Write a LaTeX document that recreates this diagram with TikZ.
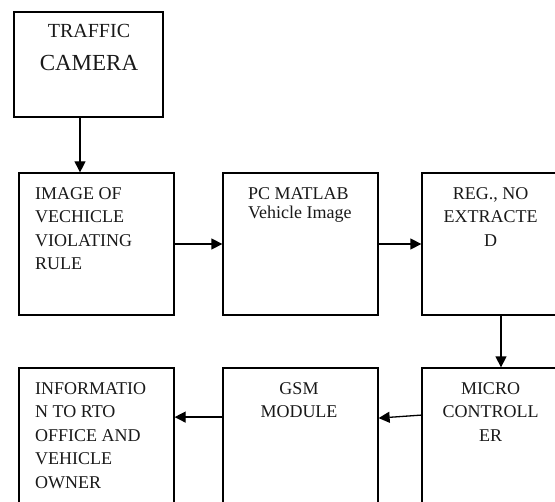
\documentclass[tikz,border=0pt]{standalone}
\usepackage{fontspec}
\setmainfont{Liberation Serif}
\usetikzlibrary{arrows.meta}
\begin{document}
\begin{tikzpicture}
    [%%%%%%%%%%%%%%%%%%%%%%%%%%%%%%
        x=1bp, y=-1bp,
        box/.style={rectangle,draw=black,line width=1.3bp,minimum width=155bp,minimum height=142bp,inner sep=0pt},
        txt/.style={inner sep=0pt,text=black!90,font=\fontsize{18bp}{23.5bp}\selectfont},
        arrow/.style={line width=1.3bp,-{Triangle[length=11bp,width=11bp]}},
    ]%%%%%%%%%%%%%%%%%%%%%%%%%%%%%%
    \clip (0,0) rectangle (555,502);
    \node[box, minimum width=149bp, minimum height=105bp] (cam) at (88.5,64.5) {};
    \node[box] (img) at (96.5,244) {};
    \node[box] (mat) at (300.5,244) {};
    \node[box] (reg) at (499.5,244) {};
    \node[box] (inf) at (96.5,439) {};
    \node[box] (gsm) at (300.5,439) {};
    \node[box] (mic) at (499.5,439) {};
    \node[txt, anchor=north, align=center, font=\fontsize{23bp}{33bp}\selectfont] (camtxt) at (89,24) {{\fontsize{20bp}{33bp}\selectfont TRAFFIC}\\CAMERA};
    \node[txt, anchor=north west, align=left] (imgtxt) at (35,187) {IMAGE OF\\VECHICLE\\VIOLATING\\RULE};
    \node[txt, anchor=north west, align=left, font=\fontsize{18bp}{19.5bp}\selectfont] (mattxt) at (248,187) {PC MATLAB\\Vehicle Image};
    \node[txt, anchor=north, align=center] (regtxt) at (490.5,187) {REG., NO\\EXTRACTE\\D};
    \node[txt, anchor=north west, align=left] (inftxt) at (35,382) {INFORMATIO\\N TO RTO\\OFFICE AND\\VEHICLE\\OWNER};
    \node[txt, anchor=north, align=center] (gsmtxt) at (299,382) {GSM\\MODULE};
    \node[txt, anchor=north, align=center] (mictxt) at (490.5,382) {MICRO\\CONTROLL\\ER};
    \draw[arrow] ([xshift=-8.5pt]cam.south) -- ([xshift=-8.5pt]cam.south |- img.north);
    \draw[arrow] (img.east) -- (mat.west);
    \draw[arrow] (mat.east) -- (reg.west);
    \draw[arrow] ([xshift=1.5pt]reg.south) -- ([xshift=1.5pt]mic.north);
    \draw[arrow] ([yshift=24pt]mic.west) -- ([yshift=21pt]gsm.east);
    \draw[arrow] ([yshift=22pt]gsm.west) -- ([yshift=22pt]inf.east);
\end{tikzpicture}
\end{document}
